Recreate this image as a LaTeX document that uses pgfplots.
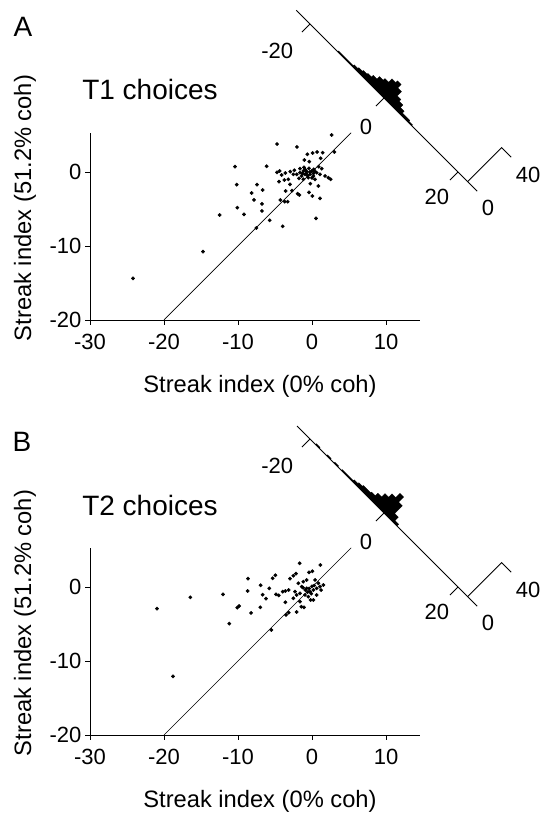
\documentclass[border=0pt]{standalone}
\usepackage{fontspec}
\setmainfont{Liberation Sans}
\usepackage{pgfplots}
\pgfplotsset{compat=1.18}
\newcommand{\tkf}{\fontsize{22pt}{24pt}\selectfont}
\newcommand{\lbf}{\fontsize{23.7pt}{26pt}\selectfont}
\newcommand{\ttf}{\fontsize{28pt}{30pt}\selectfont}
\pgfplotsset{
  scat/.style={
    x=7.4pt, y=7.4pt, anchor=south west,
    xmin=-30, xmax=14.6, ymin=-20, ymax=5.3,
    axis x line=bottom, axis y line=left,
    axis line style={-, line width=0.9pt, black},
    xtick={-30,-20,-10,0,10}, xticklabels={-30,-20,-10,0,10},
    ytick={-20,-10,0}, yticklabels={-20,-10,0},
    tick align=outside, major tick length=5pt,
    tick style={line width=0.9pt, black},
    ticklabel style={font=\tkf},
    xticklabel style={yshift=-6pt},
    xlabel={Streak index (0\% coh)}, ylabel={Streak index (51.2\% coh)},
    label style={font=\lbf},
    xlabel style={at={(axis description cs:0.515,-0.3526)}, anchor=center},
    ylabel style={at={(axis description cs:-0.197,0.598)}, anchor=center},
    clip=false,
  },
  hist/.style={
    x={(3.7pt,-3.7pt)}, y={(0.85pt,0.85pt)},
    anchor=origin, hide axis, clip=false,
    xmin=-25, xmax=30, ymin=-40, ymax=45,
  },
  dots/.style={only marks, mark=*, mark size=1.7pt, black},
  hl/.style={black, line width=0.9pt},
}
\begin{document}
\begin{tikzpicture}
\path[use as bounding box] (0pt,0pt) rectangle (542pt,813pt);
% ---------------- Panel A ----------------
\node[font=\ttf] at (23pt,786pt) {A};
\node[font=\ttf] at (150pt,723pt) {T1 choices};
\begin{axis}[scat, at={(90pt,493pt)}]
\addplot[black, line width=0.7pt] coordinates {(-20,-20) (5.3,5.3)};
\addplot[dots] coordinates {
(2.66,5.0) (-4.73,3.78) (-2.03,3.38) (3.02,2.70) (-0.63,2.39) (0.09,2.57)
(0.68,2.70) (1.44,2.61) (-1.04,1.62) (-0.36,1.40) (1.17,1.85) (-10.41,0.72)
(-6.13,0.77) (-4.73,-0.05) (-4.37,0.14) (-3.60,-0.14) (-2.93,0.05) (-2.39,0.23)
(-1.62,0.45) (-1.08,0.63) (-0.41,0.50) (0.23,0.36) (0.90,0.72) (1.31,0.45)
(-0.72,0.05) (-0.95,-0.32) (-1.40,-0.54) (-2.07,-0.32) (-1.76,-0.86) (-1.17,-0.99)
(-0.50,-0.77) (0.18,-0.54) (0.63,-0.09) (1.08,-0.32) (1.76,-0.54) (2.52,-0.99)
(-0.27,-0.32) (-0.05,0.14) (0.41,-0.99) (-0.23,-1.58) (0.86,-1.89) (-4.46,-1.31)
(-3.74,-1.08) (-2.97,-1.67) (-10.18,-1.71) (-7.43,-1.71) (-6.67,-2.43) (-8.15,-2.84)
(-7.84,-3.78) (-6.76,-4.32) (-10.09,-4.82) (-6.76,-5.27) (-9.19,-5.72) (-12.48,-5.81)
(-3.56,-2.57) (-2.70,-2.52) (-1.94,-2.93) (-1.71,-3.11) (-0.41,-2.75) (0.05,-3.24)
(1.08,-3.56) (-4.28,-3.78) (-3.69,-4.01) (-3.29,-4.01) (-5.72,-6.53) (-3.96,-7.34)
(0.54,-6.26) (-7.52,-7.57) (-14.73,-10.77) (-24.19,-14.37) (2.21,-0.77) (-1.17,0.14)
(-1.62,-0.09) (-2.52,-0.32) (-4.10,-0.41) (-3.20,-0.99) (-0.80,-0.20) (-0.30,0.00)
(-0.60,-0.50) (0.00,-0.80) (-1.30,-0.20) (0.40,0.10) (-0.90,0.30) (0.20,-0.20)
};
\end{axis}
\begin{axis}[hist, at={(384pt,715pt)}]
\addplot[fill=black, draw=black, line width=0.3pt, sharp plot] coordinates {
(-12.5,0) (-12.5,1) (-8.5,1) (-8.5,2) (-7.5,2) (-7.5,3) (-6.5,3) (-6.5,4)
(-5.5,4) (-5.5,5) (-4.5,5) (-4.5,7) (-3.5,7) (-3.5,10) (-2.5,10) (-2.5,12)
(-1.5,12) (-1.5,16) (-0.5,16) (-0.5,18) (0.5,18) (0.5,14) (1.5,14) (1.5,9)
(2.5,9) (2.5,7) (3.5,7) (3.5,4) (4.5,4) (4.5,2) (6.5,2) (6.5,1) (7.5,1) (7.5,0)
} -- cycle;
\addplot[hl] coordinates {(-23.7,0) (25.2,0)};
\addplot[hl] coordinates {(-20,0) (-20,-9.5)};
\addplot[hl] coordinates {(0,0) (0,-9.5)};
\addplot[hl] coordinates {(20,0) (20,-9.5)};
\addplot[hl] coordinates {(22.6,0) (22.6,40) (25.2,40)};
\node[font=\tkf] at (axis cs:-20.8,-35) {-20};
\node[font=\tkf] at (axis cs:1.5,-27.6) {0};
\node[font=\tkf] at (axis cs:20.5,-27) {20};
\node[font=\tkf] at (axis cs:28.9,-3.5) {0};
\node[font=\tkf] at (axis cs:29.9,39.4) {40};
\end{axis}
% ---------------- Panel B ----------------
\node[font=\ttf] at (22pt,371pt) {B};
\node[font=\ttf] at (150pt,308pt) {T2 choices};
\begin{axis}[scat, at={(90pt,78pt)}]
\addplot[black, line width=0.7pt] coordinates {(-20,-20) (5.3,5.3)};
\addplot[dots] coordinates {
(-1.67,3.20) (1.13,2.97) (-0.41,1.98) (0.05,2.12) (-4.95,1.58) (-5.32,1.17)
(-8.65,1.13) (-2.16,1.80) (-2.52,1.53) (-2.97,1.13) (-6.94,0.23) (-5.77,-0.18)
(-8.69,-0.54) (-12.03,-0.99) (-16.44,-1.40) (-20.95,-2.93) (-18.78,-12.07) (-6.67,-1.04)
(-6.22,-1.58) (-4.86,-0.99) (-4.50,-1.13) (-3.96,-0.63) (-3.60,-0.54) (-3.15,-0.41)
(-9.86,-2.57) (-10.09,-2.79) (-8.24,-3.51) (-6.98,-2.75) (-11.17,-4.95) (-5.50,-5.81)
(-3.60,-2.07) (-3.51,-3.78) (-3.15,-3.47) (-2.07,-3.38) (-1.44,-2.66) (-2.52,-1.53)
(-2.30,-0.63) (-1.85,0.50) (-1.17,0.72) (-1.40,0.05) (-0.72,-0.18) (-0.27,-0.63)
(0.18,-0.41) (0.63,-0.18) (1.08,0.05) (0.86,0.50) (1.53,0.27) (-1.62,-0.86)
(-2.07,-1.08) (-0.95,-1.08) (-0.50,-1.31) (0.18,-1.76) (0.63,-1.08) (1.22,-0.41)
(0.41,0.95) (-0.72,0.95) (-1.08,-2.75) (-0.18,-1.76) (-1.62,-1.98) (-0.40,-0.20)
(-0.90,-0.40) (-0.10,-0.90) (0.30,0.20) (-1.20,-0.10) (-0.60,-0.70) (0.00,0.10)
};
\end{axis}
\begin{axis}[hist, at={(384pt,300pt)}]
\addplot[fill=black, draw=black, line width=0.3pt, sharp plot] coordinates {
(-18.5,0) (-18.5,1) (-17.5,1) (-17.5,0) (-15.5,0) (-15.5,1) (-14.5,1) (-14.5,0)
(-13.5,0) (-13.5,1) (-12.5,1) (-12.5,0) (-11.5,0) (-11.5,1) (-8.5,1) (-8.5,2)
(-7.5,2) (-7.5,3) (-6.5,3) (-6.5,4) (-4.5,4) (-4.5,5) (-3.5,5) (-3.5,8)
(-2.5,8) (-2.5,12) (-1.5,12) (-1.5,16) (-0.5,16) (-0.5,21) (0.5,21) (0.5,15)
(1.5,15) (1.5,6) (2.5,6) (2.5,2) (3.5,2) (3.5,0)
} -- cycle;
\addplot[hl] coordinates {(-23.5,0) (25.2,0)};
\addplot[hl] coordinates {(-20,0) (-20,-9.5)};
\addplot[hl] coordinates {(0,0) (0,-9.5)};
\addplot[hl] coordinates {(20,0) (20,-9.5)};
\addplot[hl] coordinates {(22.6,0) (22.6,40) (25.2,40)};
\node[font=\tkf] at (axis cs:-20.8,-35) {-20};
\node[font=\tkf] at (axis cs:1.5,-27.6) {0};
\node[font=\tkf] at (axis cs:20.5,-27) {20};
\node[font=\tkf] at (axis cs:28.9,-3.5) {0};
\node[font=\tkf] at (axis cs:29.9,39.4) {40};
\end{axis}
\end{tikzpicture}
\end{document}
